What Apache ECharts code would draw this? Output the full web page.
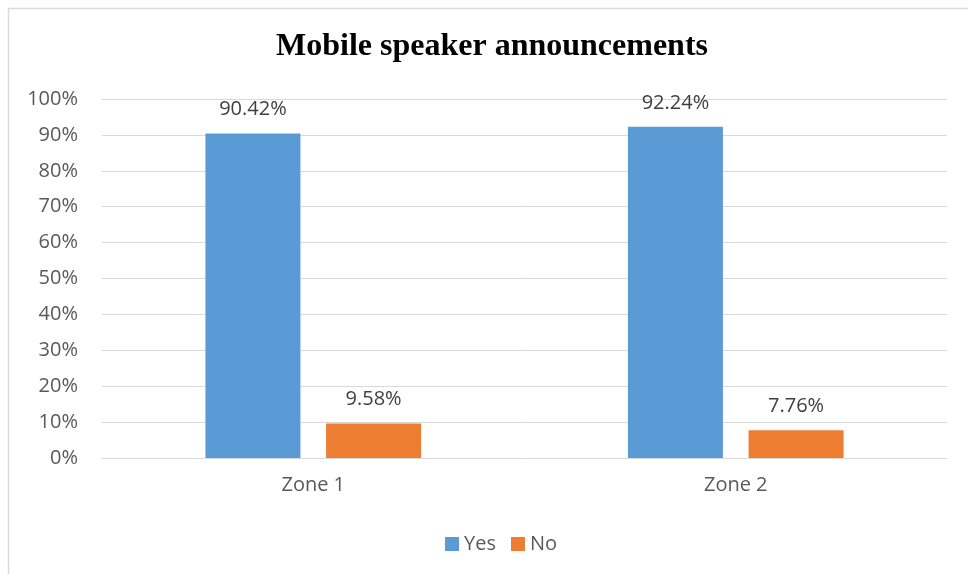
<!DOCTYPE html>
<html>
<head>
<meta charset="utf-8">
<script src="https://cdn.jsdelivr.net/npm/echarts@6/dist/echarts.min.js"></script>
<style>html,body{margin:0;padding:0;background:#fff;}#chart{width:968px;height:574px;}</style>
</head>
<body>
<div id="chart"></div>
<script>
const titleText = 'Mobile speaker announcements';
const categories = ['Zone 1', 'Zone 2'];
const seriesNames = ['Yes', 'No'];
const yesValues = [90.42, 92.24];
const noValues = [9.58, 7.76];
const yTicks = [0, 10, 20, 30, 40, 50, 60, 70, 80, 90, 100];

const chart = echarts.init(document.getElementById('chart'), null, {renderer: 'canvas'});
const labelFont = 'Open Sans';
const labelStyle = {
  show: true, position: 'top', distance: 14,
  color: '#404040', fontFamily: labelFont, fontSize: 20,
  formatter: p => p.value.toFixed(2) + '%'
};
chart.setOption({
  animation: false,
  backgroundColor: '#fff',
  graphic: [{
    type: 'rect', shape: {x: 8.5, y: 8.5, width: 1100, height: 1100},
    style: {fill: 'none', stroke: '#d9d9d9', lineWidth: 1.5}, silent: true, z: -1
  }],
  title: {
    text: titleText, left: 487, top: 26, textAlign: 'center',
    textStyle: {fontFamily: 'Liberation Serif', fontWeight: 'bold', fontSize: 32, color: '#000'}
  },
  legend: {
    data: seriesNames, top: 529, left: 440,
    icon: 'rect', itemWidth: 14, itemHeight: 14, itemGap: 15,
    textStyle: {fontFamily: labelFont, fontSize: 20, color: '#595959'}
  },
  grid: {left: 102, right: 21, top: 99, bottom: 116},
  xAxis: {
    type: 'category', data: categories,
    axisLine: {lineStyle: {color: '#d9d9d9', width: 1}},
    axisTick: {show: false},
    axisLabel: {margin: 17, color: '#595959', fontFamily: labelFont, fontSize: 20}
  },
  yAxis: {
    type: 'value', min: yTicks[0], max: yTicks[yTicks.length - 1], interval: 10,
    axisLine: {show: false}, axisTick: {show: false},
    splitLine: {lineStyle: {color: '#d9d9d9', width: 1}},
    axisLabel: {margin: 24, color: '#595959', fontFamily: labelFont, fontSize: 20, formatter: v => v + '%'}
  },
  series: [
    {name: seriesNames[0], type: 'bar', data: yesValues, barWidth: 95, barGap: '27%',
     itemStyle: {color: '#5B9BD5'}, label: labelStyle},
    {name: seriesNames[1], type: 'bar', data: noValues, barWidth: 95, barGap: '27%',
     itemStyle: {color: '#ED7D31'}, label: labelStyle}
  ]
});
</script>
</body>
</html>
